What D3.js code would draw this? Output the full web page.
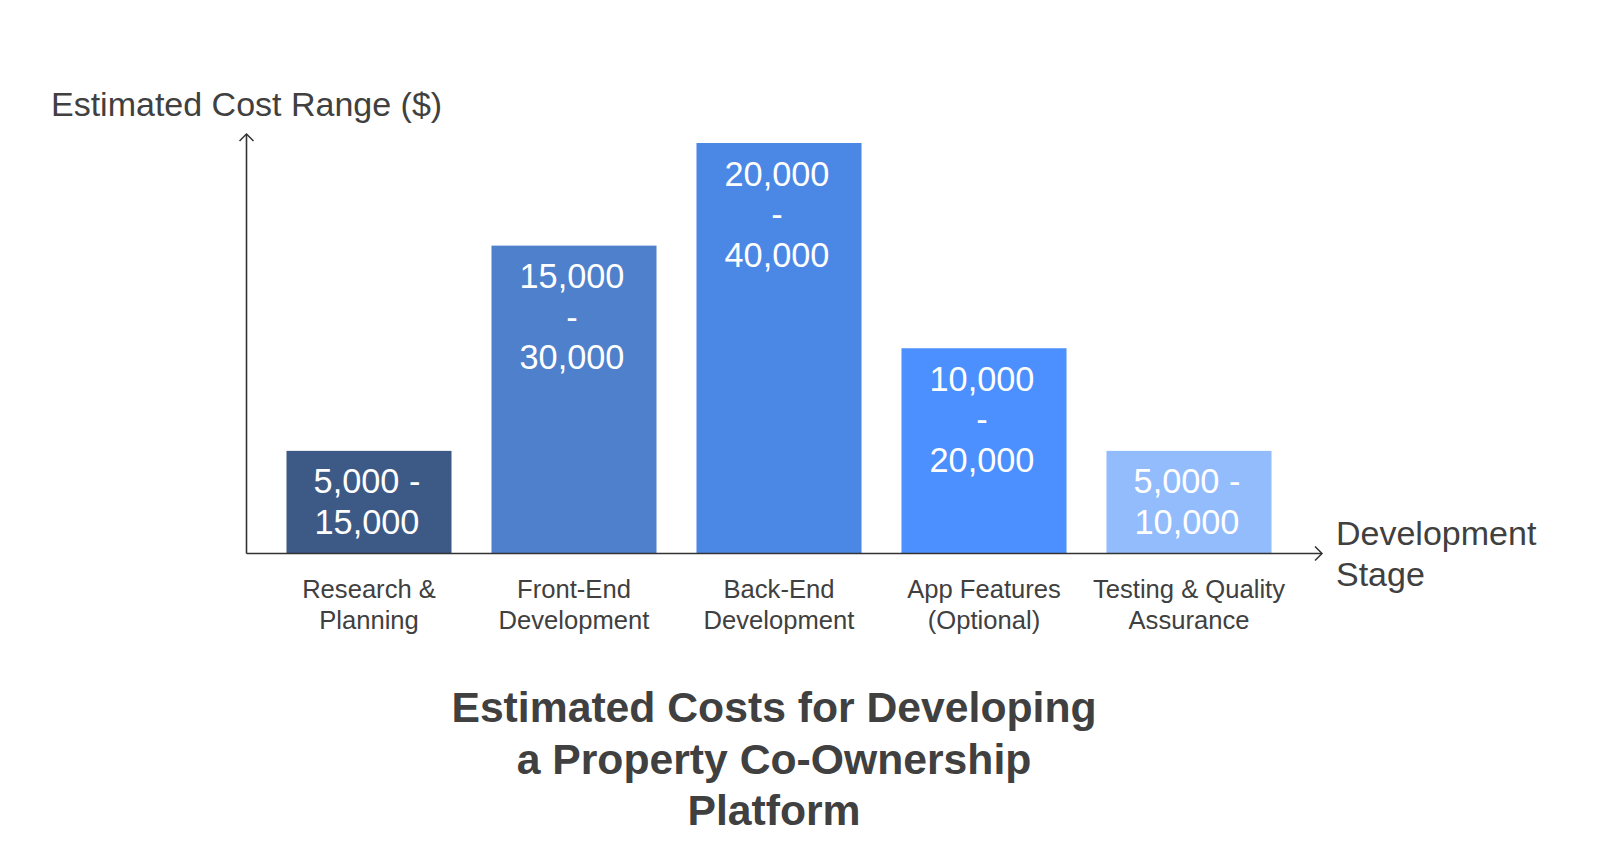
<!DOCTYPE html>
<html>
<head>
<meta charset="utf-8">
<script src="https://cdn.jsdelivr.net/npm/d3@7"></script>
<style>
  html, body { margin: 0; padding: 0; background: #fff; }
  svg { display: block; font-family: Arial, "Liberation Sans", sans-serif; }
</style>
</head>
<body>
<svg id="chart" width="1600" height="842"></svg>
<script>
// ---- data ----
const categories = ["Research & Planning", "Front-End Development", "Back-End Development", "App Features (Optional)", "Testing & Quality Assurance"];
const categoryLines = [["Research &", "Planning"], ["Front-End", "Development"], ["Back-End", "Development"], ["App Features", "(Optional)"], ["Testing & Quality", "Assurance"]];
const barValues = [10000, 30000, 40000, 20000, 10000];
const rangeLabels = [["5,000 -", "15,000"], ["15,000", "-", "30,000"], ["20,000", "-", "40,000"], ["10,000", "-", "20,000"], ["5,000 -", "10,000"]];
const barColors = ["#3d5a87", "#4f80cb", "#4b87e5", "#4c8ffe", "#93bcfd"];
const yAxisTitle = "Estimated Cost Range ($)";
const xAxisTitle = ["Development", "Stage"];
const chartTitle = ["Estimated Costs for Developing", "a Property Co-Ownership", "Platform"];

// ---- layout ----
const svg = d3.select("#chart");
const textColor = "#404040";
const axisX0 = 246.5, axisY0 = 553.5, axisTop = 134, axisRight = 1322;

const x = d3.scaleBand().domain(categories).range([266.5, 1291.5]).paddingInner(0.195).paddingOuter(0.0975);
const y = d3.scaleLinear().domain([0, 40000]).range([axisY0, 143]);

// bars
const g = svg.append("g");
g.selectAll("rect.bar").data(categories).join("rect")
  .attr("class", "bar")
  .attr("x", d => x(d))
  .attr("width", x.bandwidth())
  .attr("y", (d, i) => y(barValues[i]))
  .attr("height", (d, i) => y(0) - y(barValues[i]))
  .attr("fill", (d, i) => barColors[i]);

// value labels inside bars
categories.forEach((c, i) => {
  const cx = x(c) + x.bandwidth() / 2 - 2;
  const t = g.append("text")
    .attr("x", cx)
    .attr("y", y(barValues[i]) + 30.5)
    .attr("text-anchor", "middle")
    .attr("dominant-baseline", "central")
    .attr("fill", "#ffffff")
    .attr("font-size", 34.3);
  rangeLabels[i].forEach((ln, j) => {
    t.append("tspan").attr("x", cx).attr("dy", j === 0 ? 0 : 40.5).text(ln);
  });
});

// category labels
categories.forEach((c, i) => {
  const cx = x(c) + x.bandwidth() / 2;
  const t = g.append("text")
    .attr("x", cx)
    .attr("y", 589)
    .attr("text-anchor", "middle")
    .attr("dominant-baseline", "central")
    .attr("fill", textColor)
    .attr("font-size", 25.6);
  categoryLines[i].forEach((ln, j) => {
    t.append("tspan").attr("x", cx).attr("dy", j === 0 ? 0 : 30.6).text(ln);
  });
});

// axes
const axisColor = "#333333";
g.append("line").attr("x1", axisX0).attr("x2", axisX0).attr("y1", axisY0).attr("y2", axisTop)
  .attr("stroke", axisColor).attr("stroke-width", 1.6);
g.append("line").attr("x1", axisX0).attr("x2", axisRight).attr("y1", axisY0).attr("y2", axisY0)
  .attr("stroke", axisColor).attr("stroke-width", 1.6);
// arrowheads
g.append("path").attr("d", `M${axisX0 - 7},${axisTop + 7} L${axisX0},${axisTop} L${axisX0 + 7},${axisTop + 7}`)
  .attr("fill", "none").attr("stroke", axisColor).attr("stroke-width", 1.5);
g.append("path").attr("d", `M${axisRight - 7},${axisY0 - 7} L${axisRight},${axisY0} L${axisRight - 7},${axisY0 + 7}`)
  .attr("fill", "none").attr("stroke", axisColor).attr("stroke-width", 1.5);

// axis titles
g.append("text").attr("x", 51).attr("y", 103.5).attr("dominant-baseline", "central")
  .attr("fill", textColor).attr("font-size", 34).text(yAxisTitle);
const xt = g.append("text").attr("x", 1336).attr("y", 532.5).attr("dominant-baseline", "central")
  .attr("fill", textColor).attr("font-size", 34);
xAxisTitle.forEach((ln, j) => xt.append("tspan").attr("x", 1336).attr("dy", j === 0 ? 0 : 41).text(ln));

// chart title
const tt = g.append("text").attr("x", 774).attr("y", 707).attr("text-anchor", "middle")
  .attr("dominant-baseline", "central").attr("fill", "#404040")
  .attr("font-size", 42.7).attr("font-weight", "bold");
chartTitle.forEach((ln, j) => tt.append("tspan").attr("x", 774).attr("dy", j === 0 ? 0 : 51.5).text(ln));
</script>
</body>
</html>
